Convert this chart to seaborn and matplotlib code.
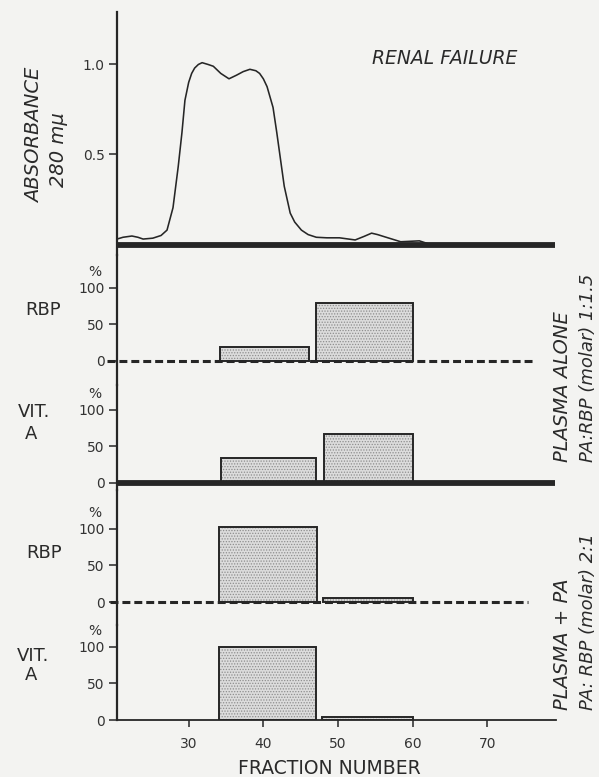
import matplotlib
matplotlib.use("Agg")
import matplotlib.pyplot as plt
import seaborn as sns
import pandas as pd

# ---------------- data ----------------
# Absorbance (280 mµ) elution profile, renal failure plasma
FRACTION = [20.4, 21.2, 22.4, 23.2, 23.9, 25.2, 26.3, 27.1, 27.9, 28.6, 29.1, 29.5,
            30.0, 30.4, 30.8, 31.3, 31.8, 32.6, 33.3, 34.3, 35.4, 36.4, 37.3, 38.2, 39.0, 39.5,
            40.0, 40.5, 41.3, 41.8, 42.3, 42.8, 43.6, 44.2, 45.1, 46.0, 47.1, 48.5,
            50.2, 52.3, 53.5, 54.5, 55.3, 56.3, 58.4, 60.9, 62.0]
ABSORBANCE = [0.025, 0.035, 0.042, 0.035, 0.025, 0.03, 0.045, 0.075, 0.20, 0.43, 0.62, 0.80,
              0.90, 0.95, 0.98, 1.0, 1.01, 1.0, 0.99, 0.95, 0.92, 0.94, 0.96, 0.973, 0.965, 0.95,
              0.92, 0.876, 0.76, 0.62, 0.47, 0.32, 0.17, 0.12, 0.075, 0.05, 0.035, 0.032,
              0.032, 0.02, 0.04, 0.058, 0.05, 0.037, 0.01, 0.015, 0.0]
ABS_TICKS = [0.5, 1.0]
ABS_TICK_LABELS = ["0.5", "1.0"]

# Percent distribution bars: fraction ranges (start, end) and % of total
RBP_ALONE_START = [34.2, 47.0]
RBP_ALONE_END = [46.1, 60.0]
RBP_ALONE_PCT = [19, 79]

VITA_ALONE_START = [34.3, 48.1]
VITA_ALONE_END = [47.0, 60.0]
VITA_ALONE_PCT = [34, 67]

RBP_PA_START = [34.1, 48.0]
RBP_PA_END = [47.2, 60.0]
RBP_PA_PCT = [103, 5]

VITA_PA_START = [34.1, 47.9]
VITA_PA_END = [47.1, 60.1]
VITA_PA_PCT = [100, 4]

PCT_TICKS = [0, 50, 100]
FRACTION_TICKS = [30, 40, 50, 60, 70]

# ---------------- style ----------------
PAPER = "#f3f3f1"
INK = "#262626"
FILL = "#dcdcdc"

sns.set_style("white")
plt.rcParams["font.family"] = ["DejaVu Sans"]
plt.rcParams["patch.force_edgecolor"] = False
plt.rcParams["hatch.color"] = "#8e8e8e"
plt.rcParams["hatch.linewidth"] = 0.6

W, H = 599, 777
fig = plt.figure(figsize=(W / 100, H / 100), dpi=100, facecolor=PAPER)

X0, X1 = 117, 556
XLIM = (20.4, 79.2)


def add_ax(top, bottom):
    ax = fig.add_axes([X0 / W, 1 - bottom / H, (X1 - X0) / W, (bottom - top) / H])
    ax.set_facecolor("none")
    for s in ["top", "right", "bottom"]:
        ax.spines[s].set_visible(False)
    ax.spines["left"].set_color(INK)
    ax.spines["left"].set_linewidth(1.6)
    ax.set_xlim(*XLIM)
    ax.tick_params(axis="y", direction="out", length=6, width=1.1, color=INK,
                   labelsize=10, labelcolor="#333333", pad=3, left=True)
    ax.tick_params(axis="x", bottom=False, labelbottom=False)
    ax.grid(False)
    return ax


ax0 = add_ax(12, 255)
ax1 = add_ax(255, 385)
ax2 = add_ax(385, 490)
ax3 = add_ax(490, 625)
ax4 = add_ax(625, 720)

# ---------------- absorbance panel ----------------
ax0.set_ylim(-0.064, 1.293)
df = pd.DataFrame({"fraction": FRACTION, "absorbance": ABSORBANCE})
sns.lineplot(data=df, x="fraction", y="absorbance", ax=ax0, color=INK,
             linewidth=1.15, estimator=None, sort=False)
ax0.plot([20.4, 79.0], [-0.01, -0.01], color=INK, linewidth=4.2,
         solid_capstyle="butt", clip_on=False, zorder=3)
ax0.set_yticks(ABS_TICKS)
ax0.set_yticklabels(ABS_TICK_LABELS)
ax0.set_xlabel("")
ax0.set_ylabel("")


def draw_bars(ax, starts, ends, pct):
    widths = [e - s for s, e in zip(starts, ends)]
    ax.bar(starts, pct, width=widths, align="edge", color=FILL, hatch="......",
           linewidth=0, zorder=2)
    ax.bar(starts, pct, width=widths, align="edge", fill=False, edgecolor=INK,
           linewidth=1.4, zorder=3)


def pct_axis(ax, ylim):
    ax.set_ylim(*ylim)
    ax.set_yticks(PCT_TICKS)
    ax.set_yticklabels([str(t) for t in PCT_TICKS])
    ax.annotate("%", xy=(0, 100), xycoords=("axes fraction", "data"),
                xytext=(-16, 11.5), textcoords="offset points",
                ha="center", va="center", fontsize=10, color="#333333")


# RBP, plasma alone
pct_axis(ax1, (-32.9, 145.2))
draw_bars(ax1, RBP_ALONE_START, RBP_ALONE_END, RBP_ALONE_PCT)
ax1.plot([19.1, 76.5], [0, 0], color=INK, linewidth=2.2, dashes=(2.6, 1.3),
         clip_on=False, zorder=4)

# Vit A, plasma alone
pct_axis(ax2, (-9.6, 134.2))
draw_bars(ax2, VITA_ALONE_START, VITA_ALONE_END, VITA_ALONE_PCT)
ax2.plot([20.4, 79.0], [0, 0], color=INK, linewidth=4.2,
         solid_capstyle="butt", clip_on=False, zorder=4)

# RBP, plasma + PA
pct_axis(ax3, (-31.5, 153.4))
draw_bars(ax3, RBP_PA_START, RBP_PA_END, RBP_PA_PCT)
ax3.plot([19.5, 75.5], [0, 0], color=INK, linewidth=2.2, dashes=(2.6, 1.3),
         clip_on=False, zorder=4)

# Vit A, plasma + PA
pct_axis(ax4, (0, 130.1))
draw_bars(ax4, VITA_PA_START, VITA_PA_END, VITA_PA_PCT)
ax4.spines["bottom"].set_visible(True)
ax4.spines["bottom"].set_color(INK)
ax4.spines["bottom"].set_linewidth(1.3)
ax4.set_xticks(FRACTION_TICKS)
ax4.set_xticklabels([str(t) for t in FRACTION_TICKS])
ax4.tick_params(axis="x", bottom=True, labelbottom=True, direction="out",
                length=5, width=1.1, color=INK, labelsize=10,
                labelcolor="#333333", pad=7)

# ---------------- text ----------------
def ftext(x, y, s, **kw):
    kw.setdefault("color", "#2a2a2a")
    fig.text(x / W, 1 - y / H, s, **kw)


ftext(35, 135, "ABSORBANCE", rotation=90, ha="center", va="center",
      style="italic", fontsize=14)
ftext(59, 150, "280 mμ", rotation=90, ha="center", va="center",
      style="italic", fontsize=14)
ftext(445, 59, "RENAL FAILURE", ha="center", va="center", style="italic",
      fontsize=13.5)

ftext(43, 310, "RBP", ha="center", va="center", fontsize=13)
ftext(34, 412, "VIT.", ha="center", va="center", fontsize=13)
ftext(31, 434, "A", ha="center", va="center", fontsize=13)
ftext(44, 553, "RBP", ha="center", va="center", fontsize=13)
ftext(33, 656, "VIT.", ha="center", va="center", fontsize=13)
ftext(31, 675, "A", ha="center", va="center", fontsize=13)

ftext(562, 462, "PLASMA ALONE", rotation=90, ha="center", va="bottom",
      style="italic", fontsize=14)
ftext(588, 462, "PA:RBP (molar) 1:1.5", rotation=90, ha="center", va="bottom",
      style="italic", fontsize=13)
ftext(562, 710, "PLASMA + PA", rotation=90, ha="center", va="bottom",
      style="italic", fontsize=14)
ftext(588, 710, "PA: RBP (molar) 2:1", rotation=90, ha="center", va="bottom",
      style="italic", fontsize=13)

ftext(329, 769, "FRACTION NUMBER", ha="center", va="center", fontsize=13.5)

fig.savefig("out.png", dpi=100, facecolor=PAPER)
